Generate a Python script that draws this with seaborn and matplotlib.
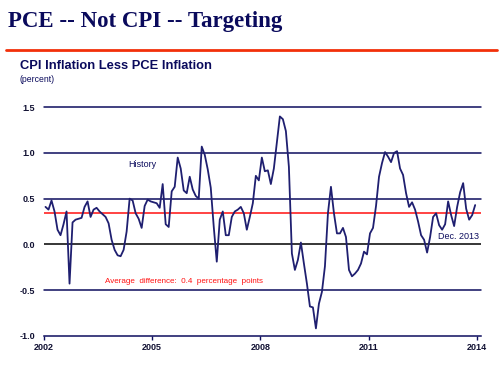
import numpy as np
import pandas as pd
import matplotlib
matplotlib.use("Agg")
import matplotlib.pyplot as plt
import seaborn as sns

# Monthly CPI inflation less PCE inflation, Jan 2002 - Dec 2013 (percent)
values_2002 = [0.41, 0.38, 0.48, 0.36, 0.16, 0.10, 0.22, 0.36, -0.43, 0.24, 0.27, 0.28]
values_2003 = [0.29, 0.41, 0.47, 0.30, 0.38, 0.40, 0.36, 0.33, 0.30, 0.23, 0.05, -0.06]
values_2004 = [-0.12, -0.13, -0.06, 0.14, 0.50, 0.48, 0.34, 0.28, 0.18, 0.42, 0.49, 0.47]
values_2005 = [0.46, 0.45, 0.40, 0.66, 0.22, 0.19, 0.58, 0.63, 0.95, 0.83, 0.59, 0.56]
values_2006 = [0.74, 0.60, 0.53, 0.50, 1.07, 0.98, 0.82, 0.62, 0.19, -0.19, 0.27, 0.36]
values_2007 = [0.10, 0.10, 0.30, 0.36, 0.38, 0.41, 0.34, 0.16, 0.30, 0.45, 0.75, 0.70]
values_2008 = [0.95, 0.80, 0.81, 0.66, 0.83, 1.12, 1.40, 1.37, 1.24, 0.85, -0.10, -0.28]
values_2009 = [-0.17, 0.02, -0.21, -0.43, -0.68, -0.69, -0.92, -0.65, -0.52, -0.24, 0.34, 0.63]
values_2010 = [0.34, 0.12, 0.12, 0.18, 0.08, -0.28, -0.35, -0.32, -0.28, -0.21, -0.08, -0.11]
values_2011 = [0.12, 0.18, 0.42, 0.74, 0.89, 1.01, 0.96, 0.90, 1.00, 1.02, 0.83, 0.76]
values_2012 = [0.56, 0.41, 0.46, 0.38, 0.25, 0.10, 0.05, -0.09, 0.08, 0.30, 0.34, 0.21]
values_2013 = [0.16, 0.22, 0.47, 0.32, 0.20, 0.41, 0.57, 0.67, 0.39, 0.27, 0.32, 0.43]

yearly = [values_2002, values_2003, values_2004, values_2005, values_2006, values_2007,
          values_2008, values_2009, values_2010, values_2011, values_2012, values_2013]
start_year = 2002
average_line = 0.345
grid_levels = [1.5, 1.0, 0.5, -0.5]
y_ticks = [-1.0, -0.5, 0.0, 0.5, 1.0, 1.5]
y_tick_labels = ["-1.0", "-0.5", "0.0", "0.5", "1.0", "1.5"]
x_ticks = [2002, 2005, 2008, 2011, 2014]
x_tick_labels = ["2002", "2005", "2008", "2011", "2014"]

rows = []
for yi, vals in enumerate(yearly):
    for mi, v in enumerate(vals):
        rows.append({"date": start_year + yi + (mi + 0.5) / 12.0, "diff": v})
df = pd.DataFrame(rows)

sns.set_theme(style="white")
plt.rcParams["font.family"] = ["Liberation Sans", "DejaVu Sans"]

NAVY = "#0d0d5e"
LINE = "#1f1f70"
RED = "#ff1010"

fig = plt.figure(figsize=(5.0, 3.67), dpi=100)
ax = fig.add_axes([0.088, 0.0853, 0.874, 0.6223])

for lv in grid_levels:
    ax.axhline(lv, color=NAVY, lw=1.1, clip_on=False, zorder=1)
ax.axhline(0.0, color="black", lw=1.1, zorder=1)
ax.axhline(average_line, color=RED, lw=1.1, zorder=2)

sns.lineplot(data=df, x="date", y="diff", ax=ax, color=LINE, lw=1.3, zorder=3)

ax.set_xlim(2002, 2014.12)
ax.set_ylim(-1.0, 1.5)
for s in ["top", "right", "left"]:
    ax.spines[s].set_visible(False)
ax.spines["bottom"].set_color(NAVY)
ax.spines["bottom"].set_linewidth(1.1)

ax.set_yticks(y_ticks)
ax.set_yticklabels(y_tick_labels, fontsize=6.5, fontweight="bold", color="#111133")
ax.set_xticks(x_ticks)
ax.set_xticklabels(x_tick_labels, fontsize=6.5, fontweight="bold", color="#111133")
ax.tick_params(axis="y", length=0, pad=6.5)
ax.tick_params(axis="x", direction="out", length=3, width=1, color=NAVY, pad=2, bottom=True)
ax.set_xlabel("")
ax.set_ylabel("")
ax.grid(False)

ax.text(2004.33, 0.87, "History", fontsize=6.5, color=NAVY, ha="left", va="center")
ax.text(2014.06, 0.085, "Dec. 2013", fontsize=6.5, color=NAVY, ha="right", va="center")
ax.text(2003.69, -0.41, "Average  difference:  0.4  percentage  points", fontsize=5.8,
        color=RED, ha="left", va="center")

# Header
fig.text(8 / 500, 1 - 22 / 367, "PCE -- Not CPI -- Targeting", family="Liberation Serif",
         fontsize=16.5, fontweight="bold", color="#0a0a5c", ha="left", va="center")
fig.add_artist(plt.Line2D([6 / 500, 497 / 500], [1 - 49.5 / 367, 1 - 49.5 / 367],
                          color="#f2300a", lw=2.0))
fig.text(20 / 500, 1 - 66 / 367, "CPI Inflation Less PCE Inflation", fontsize=9.3,
         fontweight="bold", color="#0a0a5c", ha="left", va="center")
fig.text(20 / 500, 1 - 80 / 367, "(percent)", fontsize=6.2, color="#0a0a5c",
         ha="left", va="center")

fig.savefig("out.png", dpi=100)
